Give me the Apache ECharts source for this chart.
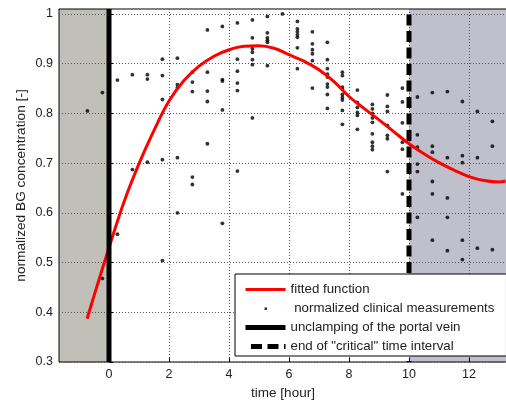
<!DOCTYPE html>
<html>
<head>
<meta charset="utf-8">
<script src="https://cdn.jsdelivr.net/npm/echarts@6/dist/echarts.min.js"></script>
<style>
html, body { margin: 0; padding: 0; background: #fff; }
#chart { width: 506px; height: 401px; }
</style>
</head>
<body>
<div id="chart"></div>
<script>
// fitted function (red curve)
const fitTime = [-0.73, -0.5, 0, 0.5, 1, 1.5, 2, 2.5, 3, 3.5, 4, 4.5, 5, 5.5, 6, 6.5, 7, 7.5, 8, 8.5, 9, 9.5, 10, 10.5, 11, 11.5, 12, 12.5, 13, 13.22];
const fitValue = [0.387, 0.433, 0.53, 0.622, 0.699, 0.766, 0.825, 0.866, 0.895, 0.915, 0.928, 0.935, 0.936, 0.931, 0.918, 0.905, 0.888, 0.864, 0.834, 0.81, 0.787, 0.763, 0.739, 0.719, 0.701, 0.686, 0.673, 0.665, 0.662, 0.664];

// clinical measurements, grouped by sampling time (every half hour)
const sampleTimes = [-0.72, -0.22, 0.28, 0.78, 1.28, 1.78, 2.28, 2.78, 3.28, 3.78, 4.28, 4.78, 5.28, 5.78, 6.28, 6.78, 7.28, 7.78, 8.28, 8.78, 9.28, 9.78, 10.28, 10.78, 11.28, 11.78, 12.28, 12.78];
const sampleValues = [
  [0.805],
  [0.842, 0.468],
  [0.867, 0.557],
  [0.878, 0.687],
  [0.878, 0.869, 0.702],
  [0.909, 0.876, 0.828, 0.707, 0.504],
  [0.911, 0.858, 0.852, 0.711, 0.6],
  [0.883, 0.863, 0.844, 0.672, 0.657],
  [0.968, 0.883, 0.845, 0.824, 0.739],
  [0.975, 0.868, 0.865, 0.807, 0.579],
  [0.982, 0.909, 0.885, 0.861, 0.846, 0.684],
  [0.988, 0.952, 0.93, 0.923, 0.908, 0.898, 0.791],
  [0.995, 0.962, 0.952, 0.947, 0.943, 0.896],
  [1.0],
  [0.985, 0.97, 0.964, 0.958, 0.953, 0.932, 0.89],
  [0.964, 0.94, 0.928, 0.92, 0.906, 0.851],
  [0.943, 0.908, 0.89, 0.879, 0.873, 0.859, 0.853, 0.838, 0.81],
  [0.883, 0.876, 0.853, 0.849, 0.838, 0.832, 0.827, 0.806, 0.778],
  [0.847, 0.822, 0.812, 0.802, 0.796, 0.768],
  [0.818, 0.809, 0.8, 0.791, 0.782, 0.759, 0.742, 0.734, 0.727],
  [0.837, 0.814, 0.804, 0.776, 0.756, 0.749, 0.683],
  [0.851, 0.823, 0.781, 0.742, 0.728, 0.638],
  [0.833, 0.757, 0.732, 0.698, 0.683, 0.591],
  [0.842, 0.734, 0.722, 0.663, 0.638, 0.545],
  [0.844, 0.711, 0.63, 0.591, 0.524],
  [0.824, 0.715, 0.701, 0.545, 0.506],
  [0.804, 0.711, 0.529],
  [0.784, 0.734, 0.526]
];

// event times and axis ranges
const unclampTime = 0;
const criticalEnd = 10;
const xRange = [-1.667, 13.267];
const yRange = [0.3, 1.01];
const xTicks = [0, 2, 4, 6, 8, 10, 12];
const yTicks = [0.3, 0.4, 0.5, 0.6, 0.7, 0.8, 0.9, 1];

const FONT = "'Liberation Sans', Arial, sans-serif";
const TXT = "#222";

let fitData = fitTime.map((t, i) => [t, fitValue[i]]);
let sampleData = [];
sampleTimes.forEach((t, i) => {
  sampleValues[i].forEach((v) => sampleData.push([t, v]));
});

let myChart = echarts.init(document.getElementById("chart"));

let gridLine = { show: true, lineStyle: { color: "#555", width: 1, type: [1, 2] } };
let noSymbol = { color: "rgba(0,0,0,0)" };

let option = {
  animation: false,
  textStyle: { fontFamily: FONT, color: TXT },
  grid: {
    show: true,
    z: 1.5,
    left: 59,
    top: 9,
    right: -1,
    bottom: 39,
    outerBoundsMode: "none",
    containLabel: false,
    borderColor: "#000",
    borderWidth: 1,
    backgroundColor: "transparent",
  },
  xAxis: {
    type: "value",
    z: 1.5,
    min: xRange[0],
    max: xRange[1],
    name: "time [hour]",
    nameLocation: "middle",
    nameGap: 22,
    nameTextStyle: { fontSize: 13.5, color: TXT, fontFamily: FONT },
    axisLine: { show: false },
    axisTick: { show: true, inside: true, length: 4, customValues: xTicks, lineStyle: { color: "#000" } },
    axisLabel: { customValues: xTicks, fontSize: 12.5, color: TXT, margin: 6, fontFamily: FONT },
    splitLine: gridLine,
  },
  yAxis: {
    type: "value",
    z: 1.5,
    min: yRange[0],
    max: yRange[1],
    name: "normalized BG concentration [-]",
    nameLocation: "middle",
    nameGap: 31,
    nameMoveOverlap: false,
    nameTextStyle: { fontSize: 13.7, color: TXT, fontFamily: FONT },
    axisLine: { show: false },
    axisTick: { show: true, inside: true, length: 4, customValues: yTicks, lineStyle: { color: "#000" } },
    axisLabel: { customValues: yTicks, fontSize: 12.5, color: TXT, margin: 6, fontFamily: FONT },
    splitLine: gridLine,
  },
  legend: {
    orient: "vertical",
    left: 235,
    top: 274,
    selectedMode: false,
    backgroundColor: "#fff",
    borderColor: "#000",
    borderWidth: 1,
    padding: [6, 12, 0, 8],
    itemWidth: 40,
    itemHeight: 12,
    itemGap: 0,
    textStyle: { fontSize: 13.3, lineHeight: 19, color: TXT, fontFamily: FONT },
    lineStyle: { width: "inherit" },
    data: [
      { name: "fitted function" },
      { name: " normalized clinical measurements", icon: "path://M0,0M40,12M19,5h2.5v2.5h-2.5z" },
      { name: "unclamping of the portal vein" },
      { name: 'end of "critical" time interval' },
    ],
  },
  series: [
    {
      name: " normalized clinical measurements",
      type: "scatter",
      data: sampleData,
      symbol: "circle",
      symbolSize: 3.8,
      itemStyle: { color: "#000" },
      markArea: {
        silent: true,
        data: [
          [{ xAxis: xRange[0], itemStyle: { color: "#c0c0b8" } }, { xAxis: unclampTime }],
          [{ xAxis: criticalEnd, itemStyle: { color: "#c0c0cc" } }, { xAxis: xRange[1] }],
        ],
      },
    },
    {
      name: "end of \"critical\" time interval",
      type: "line",
      data: [[criticalEnd, yRange[1]], [criticalEnd, yRange[0]]],
      symbol: "none",
      lineStyle: { color: "#000", width: 5, type: [11, 5.5], dashOffset: 11, cap: "butt" },
      itemStyle: noSymbol,
    },
    {
      name: "fitted function",
      type: "line",
      data: fitData,
      smooth: 0.4,
      symbol: "none",
      lineStyle: { color: "#ff0000", width: 3 },
      itemStyle: noSymbol,
    },
    {
      name: "unclamping of the portal vein",
      type: "line",
      data: [[unclampTime, yRange[1]], [unclampTime, yRange[0]]],
      symbol: "none",
      lineStyle: { color: "#000", width: 5 },
      itemStyle: noSymbol,
    },
  ],
};

myChart.setOption(option);
</script>
</body>
</html>
